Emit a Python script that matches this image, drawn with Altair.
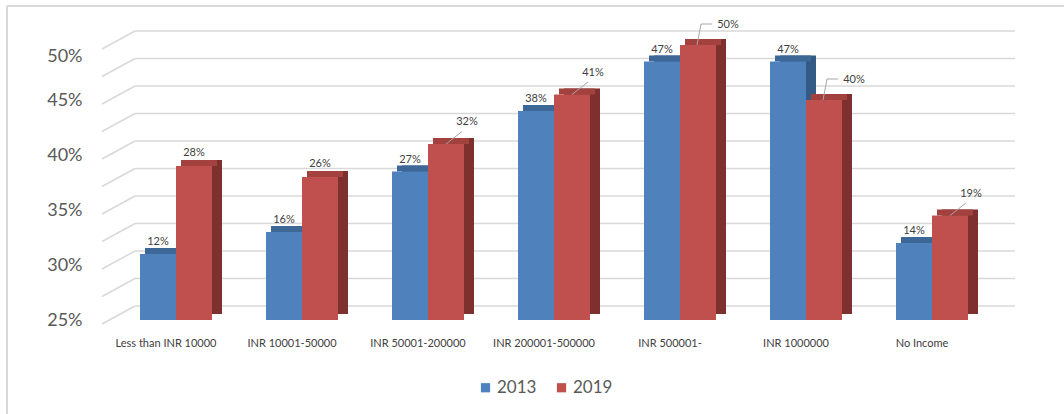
import altair as alt
import pandas as pd

categories = ["Less than INR 10000", "INR 10001-50000", "INR 50001-200000",
              "INR 200001-500000", "INR 500001-", "INR 1000000", "No Income"]
v2013 = [12, 16, 27, 38, 47, 47, 14]
v2019 = [28, 26, 32, 41, 50, 40, 19]
years = ["2013", "2019"]
grid_values = [0, 5, 10, 15, 20, 25, 30, 35, 40, 45, 50]
axis_values = [0, 10, 20, 30, 40, 50]

rows = []
for c, a, b in zip(categories, v2013, v2019):
    rows.append({"cat": c, "year": "2013", "v": a})
    rows.append({"cat": c, "year": "2019", "v": b})
df = pd.DataFrame(rows)
gdf = pd.DataFrame({"g": grid_values})

FONT = "Lato"
front_colors = ["#4f81bd", "#c0504d"]
side_blue, side_red = "#345a86", "#7d302e"
top_blue, top_red = "#3d6797", "#a2413e"

x_enc = alt.X("cat:N", sort=categories,
              scale=alt.Scale(paddingInner=0.4286, paddingOuter=0.2143),
              axis=alt.Axis(title=None, domain=False, ticks=False, labelPadding=17,
                            labelOffset=-10, labelFontSize=11, labelColor="#404040",
                            labelAngle=0, labelFont=FONT))


def xo(shift):
    return alt.XOffset("year:N", sort=years,
                       scale=alt.Scale(domain=years, range=[shift, 72 + shift],
                                       paddingInner=0, paddingOuter=0))


def xo_pt():
    return alt.XOffset("year:N", sort=years,
                       scale=alt.Scale(type="point", domain=years, range=[18, 54],
                                       padding=0))


y_scale = alt.Scale(domain=[0, 50], nice=False, zero=True)
y_enc = alt.Y("v:Q", scale=y_scale,
              axis=alt.Axis(title=None, values=axis_values, grid=False, domain=False,
                            ticks=False, labelPadding=31, labelFontSize=18,
                            labelColor="#595959", labelFont=FONT,
                            labelExpr="(25 + datum.value/2) + '%'",
                            labelOffset={"condition": {"test": "datum.value == 50", "value": 11}, "value": 0}))

base = alt.Chart(df)

border_top = alt.Chart(gdf).mark_rule(color="#d9d9d9", strokeWidth=1.5).encode(
    x=alt.value(-106), x2=alt.value(951), y=alt.value(-39))
border_left = alt.Chart(gdf).mark_rule(color="#d9d9d9", strokeWidth=1.5).encode(
    x=alt.value(-106), y=alt.value(-39), y2=alt.value(369))

grid_back = alt.Chart(gdf).mark_rule(color="#d9d9d9", strokeWidth=1.5, yOffset=-14).encode(
    x=alt.value(22), x2=alt.value(902), y=alt.Y("g:Q", scale=y_scale))
grid_diag = alt.Chart(gdf).mark_rule(color="#d9d9d9", strokeWidth=1.5, yOffset=4, y2Offset=-14).encode(
    x=alt.value(-11), x2=alt.value(22), y=alt.Y("g:Q", scale=y_scale), y2="g:Q")

sides = base.mark_bar(yOffset=-6, y2Offset=-6).encode(
    x=x_enc, xOffset=xo(10), y=y_enc,
    color=alt.condition("datum.year == '2013'", alt.value(side_blue), alt.value(side_red)))
tops = base.mark_bar(yOffset=-6, y2Offset=0).encode(
    x=x_enc, xOffset=xo(5), y=y_enc, y2="v:Q",
    color=alt.condition("datum.year == '2013'", alt.value(top_blue), alt.value(top_red)))
fronts = base.mark_bar().encode(
    x=x_enc, xOffset=xo(0), y=y_enc,
    color=alt.Color("year:N", sort=years,
                    scale=alt.Scale(domain=years, range=front_colors),
                    legend=alt.Legend(orient="none", legendX=364, legendY=334,
                                      direction="horizontal", title=None,
                                      symbolType="square", symbolSize=85,
                                      symbolStrokeWidth=0, labelFontSize=17,
                                      labelColor="#595959", labelFont=FONT,
                                      columnPadding=16, labelOffset=3)))

straight = ["INR 50001-200000", "INR 200001-500000", "No Income"]
elbow = ["INR 500001-", "INR 1000000"]
plain = ["Less than INR 10000", "INR 10001-50000"]


def in_list(lst):
    return "indexof(" + str(lst).replace("'", '"') + ", datum.cat) >= 0"


lead1 = base.transform_filter("datum.year == '2019'").transform_filter(in_list(straight)).mark_point(
    shape="M0,0L1.6,-1.25", size=400, filled=False, stroke="#a6a6a6", strokeWidth=1, opacity=1).encode(
    x=x_enc, xOffset=xo_pt(), y=y_enc)
lead2 = base.transform_filter("datum.year == '2019'").transform_filter(in_list(elbow)).mark_point(
    shape="M-0.1,0L0.3,-2.1L1.4,-2.1", size=400, filled=False, stroke="#a6a6a6", strokeWidth=1, opacity=1).encode(
    x=x_enc, xOffset=xo_pt(), y=y_enc)

txt_kw = dict(fontSize=11, color="#404040", font=FONT, baseline="middle")


def lab(chart):
    return chart.transform_calculate(label="datum.v + '%'")


t_blue = lab(base.transform_filter("datum.year == '2013'")).mark_text(dy=-12, **txt_kw).encode(
    x=x_enc, xOffset=xo_pt(), y=y_enc, text=alt.Text("label:N"))
t_red_plain = lab(base.transform_filter("datum.year == '2019'").transform_filter(in_list(plain))).mark_text(
    dy=-13, **txt_kw).encode(x=x_enc, xOffset=xo_pt(), y=y_enc, text=alt.Text("label:N"))
t_red_straight = lab(base.transform_filter("datum.year == '2019'").transform_filter(in_list(straight))).mark_text(
    dx=21, dy=-22, **txt_kw).encode(x=x_enc, xOffset=xo_pt(), y=y_enc, text=alt.Text("label:N"))
t_red_elbow = lab(base.transform_filter("datum.year == '2019'").transform_filter(in_list(elbow))).mark_text(
    dx=30, dy=-20, **txt_kw).encode(x=x_enc, xOffset=xo_pt(), y=y_enc, text=alt.Text("label:N"))

chart = alt.layer(border_top, border_left, grid_back, grid_diag, sides, tops, fronts,
                  lead1, lead2, t_blue, t_red_plain, t_red_straight, t_red_elbow).resolve_scale(
    xOffset="independent").properties(
    width=882, height=275,
    autosize=alt.AutoSizeParams(type="none"),
    padding={"left": 113, "top": 45, "right": 69, "bottom": 94},
    background="white",
).configure_view(stroke=None)

chart.save("out.html", embed_options={"renderer": "svg", "actions": False})
